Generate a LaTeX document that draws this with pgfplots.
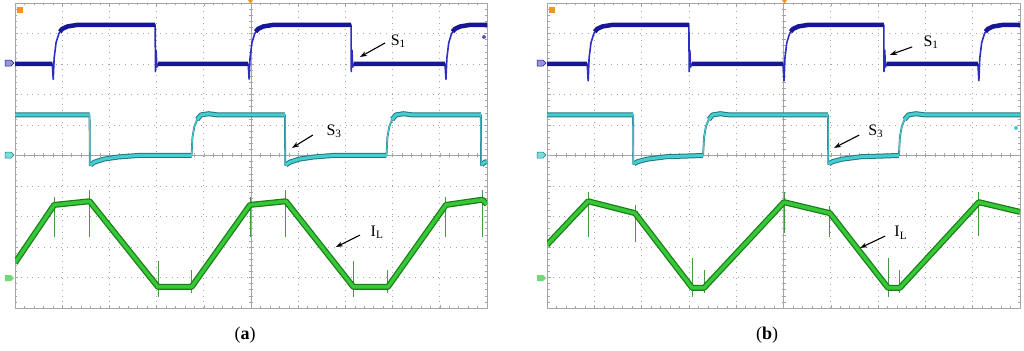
\documentclass[border=0pt]{standalone}
\usepackage{fontspec}
\setmainfont{Liberation Serif}
\usepackage{pgfplots}
\pgfplotsset{compat=1.18}
\usetikzlibrary{arrows.meta}
\definecolor{sone}{RGB}{22,22,150}
\definecolor{sonelight}{RGB}{45,45,195}
\definecolor{sthree}{RGB}{70,205,210}
\definecolor{sthreedark}{RGB}{30,120,125}
\definecolor{il}{RGB}{55,200,55}
\definecolor{ildark}{RGB}{25,125,25}
\definecolor{gridc}{RGB}{165,165,165}
\definecolor{trig}{RGB}{240,150,40}
\pgfplotsset{scopeaxis/.style={
  scale only axis, height=305bp, xmin=0,xmax=10,ymin=0,ymax=10,
  xtick={0,...,10}, ytick={0,...,10}, minor x tick num=4, minor y tick num=4,
  xticklabels={}, yticklabels={}, tick align=inside,
  major tick length=3.5bp, minor tick length=2.5bp,
  axis line style={gridc, line width=0.8bp},
  every tick/.style={gridc, line width=0.5bp},
  grid=major, major grid style={gridc, dash pattern=on 0.8bp off 5bp, line width=0.7bp},
  anchor=south west, unbounded coords=jump, clip=true,
  line join=round,
}}
\newcommand\centerlines{%
  \draw[gridc, line width=0.6bp] (axis cs:5,0)--(axis cs:5,10);
  \draw[gridc, line width=0.6bp] (axis cs:0,5)--(axis cs:10,5);
  \pgfplotsinvokeforeach{1,...,49}{%
    \draw[gridc, line width=0.5bp] (axis cs:5,{##1*0.2}) ++(-2bp,0) -- ++(4bp,0);
    \draw[gridc, line width=0.5bp] (axis cs:{##1*0.2},5) ++(0,-2bp) -- ++(0,4bp);}%
}
\newcommand\lblfont{\fontsize{16bp}{18bp}\selectfont}
\newcommand\capfont{\fontsize{18bp}{20bp}\selectfont}
\begin{document}
\begin{tikzpicture}[x=1bp,y=1bp]
\useasboundingbox (0,0) rectangle (1024,350);
% ---------------- panel (a)
\begin{axis}[scopeaxis, at={(15bp,42bp)}, width=472bp]
\centerlines
% S1
\addplot[sonelight, line width=1.6bp] coordinates {(0,8.0) (0.79,8.0) (0.81,7.5) (0.83,8.2) (0.87,8.7) (0.93,9.0) (1.0,9.15) (1.11,9.23) (1.31,9.28) (2.97,9.28) (2.975,7.75) (2.99,8.45) (3.005,7.9) (3.03,8.0) (4.94,8.0) (4.96,7.5) (4.98,8.2) (5.02,8.7) (5.08,9.0) (5.15,9.15) (5.26,9.23) (5.46,9.28) (7.12,9.28) (7.125,7.75) (7.14,8.45) (7.155,7.9) (7.18,8.0) (9.11,8.0) (9.13,7.5) (9.15,8.2) (9.19,8.7) (9.25,9.0) (9.32,9.15) (9.43,9.23) (9.63,9.28) (10,9.28)};
\addplot[sone, line width=4.5bp] coordinates {(0,8.0)(0.79,8.0)(0.8,nan)(0.95,9.06)(1.0,9.15)(1.11,9.23)(1.31,9.28)(2.97,9.28)(2.98,nan)(3.03,8.0)(4.94,8.0)(4.95,nan)(5.10,9.06)(5.15,9.15)(5.26,9.23)(5.46,9.28)(7.12,9.28)(7.13,nan)(7.18,8.0)(9.11,8.0)(9.12,nan)(9.27,9.06)(9.32,9.15)(9.43,9.23)(9.63,9.28)(10,9.28)};
% S3
\addplot[sthreedark, line width=1.8bp] coordinates {(0,6.33) (1.58,6.33) (1.585,4.68) (1.68,4.78) (1.88,4.88) (2.18,4.95) (2.6,5.0) (3.74,5.0) (3.76,5.6) (3.8,5.95) (3.86,6.18) (3.94,6.33) (4.1,6.37) (4.3,6.33) (5.72,6.33) (5.725,4.68) (5.82,4.78) (6.02,4.88) (6.32,4.95) (6.74,5.0) (7.87,5.0) (7.89,5.6) (7.93,5.95) (7.99,6.18) (8.07,6.33) (8.23,6.37) (8.43,6.33) (9.87,6.33) (9.875,4.68) (9.95,4.78) (10,4.8)};
\addplot[sthreedark, line width=5bp] coordinates {(0,6.33)(1.58,6.33)(1.59,nan)(1.6,4.69)(1.68,4.78)(1.88,4.88)(2.18,4.95)(2.6,5.0)(3.74,5.0)(3.75,nan)(3.86,6.18)(3.94,6.33)(4.1,6.37)(4.3,6.33)(5.72,6.33)(5.73,nan)(5.74,4.69)(5.82,4.78)(6.02,4.88)(6.32,4.95)(6.74,5.0)(7.87,5.0)(7.88,nan)(7.99,6.18)(8.07,6.33)(8.23,6.37)(8.43,6.33)(9.87,6.33)(9.88,nan)(9.89,4.7)(9.95,4.78)(10,4.8)};
\addplot[sthree, line width=1bp] coordinates {(0,6.33) (1.58,6.33) (1.585,4.68) (1.68,4.78) (1.88,4.88) (2.18,4.95) (2.6,5.0) (3.74,5.0) (3.76,5.6) (3.8,5.95) (3.86,6.18) (3.94,6.33) (4.1,6.37) (4.3,6.33) (5.72,6.33) (5.725,4.68) (5.82,4.78) (6.02,4.88) (6.32,4.95) (6.74,5.0) (7.87,5.0) (7.89,5.6) (7.93,5.95) (7.99,6.18) (8.07,6.33) (8.23,6.37) (8.43,6.33) (9.87,6.33) (9.875,4.68) (9.95,4.78) (10,4.8)};
\addplot[sthree, line width=3bp] coordinates {(0,6.33)(1.58,6.33)(1.59,nan)(1.6,4.69)(1.68,4.78)(1.88,4.88)(2.18,4.95)(2.6,5.0)(3.74,5.0)(3.75,nan)(3.86,6.18)(3.94,6.33)(4.1,6.37)(4.3,6.33)(5.72,6.33)(5.73,nan)(5.74,4.69)(5.82,4.78)(6.02,4.88)(6.32,4.95)(6.74,5.0)(7.87,5.0)(7.88,nan)(7.99,6.18)(8.07,6.33)(8.23,6.37)(8.43,6.33)(9.87,6.33)(9.88,nan)(9.89,4.7)(9.95,4.78)(10,4.8)};
% IL
\addplot[ildark!80, line width=0.9bp] coordinates {(0.83,2.33)(0.83,3.65)(0.9,nan)(1.58,2.33)(1.58,3.87)(1.6,nan)(3.03,0.36)(3.03,1.54)(3.1,nan)(3.74,0.5)(3.74,1.25)(3.8,nan)(4.98,2.33)(4.98,3.65)(5.0,nan)(5.74,2.33)(5.74,3.87)(5.8,nan)(7.17,0.36)(7.17,1.54)(7.2,nan)(7.9,0.5)(7.9,1.25)(7.95,nan)(9.13,2.33)(9.13,3.65)(9.2,nan)(9.9,2.33)(9.9,3.87)};
\addplot[ildark, line width=6bp] coordinates {(0,1.48) (0.83,3.38) (1.58,3.5) (3.03,0.69) (3.74,0.69) (4.98,3.38) (5.74,3.5) (7.17,0.69) (7.9,0.69) (9.13,3.38) (9.9,3.55) (10,3.4)};
\addplot[il, line width=3.5bp] coordinates {(0,1.48) (0.83,3.38) (1.58,3.5) (3.03,0.69) (3.74,0.69) (4.98,3.38) (5.74,3.5) (7.17,0.69) (7.9,0.69) (9.13,3.38) (9.9,3.55) (10,3.4)};
% annotations
\draw[-{Stealth[length=7bp,width=5bp]}, line width=1.1bp] (axis cs:7.84,8.69) -- (axis cs:7.31,8.23);
\node[font=\lblfont] at (axis cs:8.12,8.75) {S\textsubscript{1}};
\draw[-{Stealth[length=7bp,width=5bp]}, line width=1.1bp] (axis cs:6.31,5.67) -- (axis cs:5.87,5.25);
\node[font=\lblfont] at (axis cs:6.76,5.8) {S\textsubscript{3}};
\draw[-{Stealth[length=7bp,width=5bp]}, line width=1.1bp] (axis cs:7.31,2.39) -- (axis cs:6.8,2.0);
\node[font=\lblfont] at (axis cs:7.67,2.49) {I\textsubscript{L}};
\end{axis}
% ---------------- panel (b)
\begin{axis}[scopeaxis, at={(547bp,42bp)}, width=473bp]
\centerlines
\addplot[sonelight, line width=1.6bp] coordinates {(0,8.0) (0.85,8.0) (0.87,7.45) (0.89,8.2) (0.93,8.7) (0.99,9.0) (1.06,9.15) (1.17,9.23) (1.37,9.28) (3.0,9.28) (3.005,7.75) (3.02,8.45) (3.035,7.9) (3.06,8.0) (4.99,8.0) (5.01,7.45) (5.03,8.2) (5.07,8.7) (5.13,9.0) (5.2,9.15) (5.31,9.23) (5.51,9.28) (7.12,9.28) (7.125,7.75) (7.14,8.45) (7.155,7.9) (7.18,8.0) (9.11,8.0) (9.13,7.45) (9.15,8.2) (9.19,8.7) (9.25,9.0) (9.32,9.15) (9.43,9.23) (9.63,9.28) (10,9.28)};
\addplot[sone, line width=4.5bp] coordinates {(0,8.0)(0.85,8.0)(0.86,nan)(1.01,9.06)(1.06,9.15)(1.17,9.23)(1.37,9.28)(3.0,9.28)(3.01,nan)(3.06,8.0)(4.99,8.0)(5.0,nan)(5.15,9.06)(5.2,9.15)(5.31,9.23)(5.51,9.28)(7.12,9.28)(7.13,nan)(7.18,8.0)(9.11,8.0)(9.12,nan)(9.27,9.06)(9.32,9.15)(9.43,9.23)(9.63,9.28)(10,9.28)};
\addplot[sthreedark, line width=1.8bp] coordinates {(0,6.33) (1.82,6.33) (1.825,4.72) (1.92,4.8) (2.12,4.88) (2.52,4.96) (3.3,5.0) (3.32,5.6) (3.36,5.95) (3.42,6.18) (3.5,6.33) (3.66,6.37) (3.86,6.33) (5.94,6.33) (5.945,4.72) (6.04,4.8) (6.24,4.88) (6.64,4.96) (7.44,5.0) (7.46,5.6) (7.5,5.95) (7.56,6.18) (7.64,6.33) (7.8,6.37) (8.0,6.33) (10,6.33)};
\addplot[sthreedark, line width=5bp] coordinates {(0,6.33)(1.82,6.33)(1.83,nan)(1.84,4.73)(1.92,4.8)(2.12,4.88)(2.52,4.96)(3.3,5.0)(3.31,nan)(3.42,6.18)(3.5,6.33)(3.66,6.37)(3.86,6.33)(5.94,6.33)(5.95,nan)(5.96,4.73)(6.04,4.8)(6.24,4.88)(6.64,4.96)(7.44,5.0)(7.45,nan)(7.56,6.18)(7.64,6.33)(7.8,6.37)(8.0,6.33)(10,6.33)};
\addplot[sthree, line width=1bp] coordinates {(0,6.33) (1.82,6.33) (1.825,4.72) (1.92,4.8) (2.12,4.88) (2.52,4.96) (3.3,5.0) (3.32,5.6) (3.36,5.95) (3.42,6.18) (3.5,6.33) (3.66,6.37) (3.86,6.33) (5.94,6.33) (5.945,4.72) (6.04,4.8) (6.24,4.88) (6.64,4.96) (7.44,5.0) (7.46,5.6) (7.5,5.95) (7.56,6.18) (7.64,6.33) (7.8,6.37) (8.0,6.33) (10,6.33)};
\addplot[sthree, line width=3bp] coordinates {(0,6.33)(1.82,6.33)(1.83,nan)(1.84,4.73)(1.92,4.8)(2.12,4.88)(2.52,4.96)(3.3,5.0)(3.31,nan)(3.42,6.18)(3.5,6.33)(3.66,6.37)(3.86,6.33)(5.94,6.33)(5.95,nan)(5.96,4.73)(6.04,4.8)(6.24,4.88)(6.64,4.96)(7.44,5.0)(7.45,nan)(7.56,6.18)(7.64,6.33)(7.8,6.37)(8.0,6.33)(10,6.33)};
\addplot[ildark!80, line width=0.9bp] coordinates {(0.87,2.33)(0.87,3.8)(0.9,nan)(1.86,2.16)(1.86,3.38)(1.9,nan)(3.07,0.36)(3.07,1.64)(3.1,nan)(3.32,0.5)(3.32,1.25)(3.4,nan)(5.01,2.45)(5.01,3.8)(5.1,nan)(5.98,2.33)(5.98,3.33)(6.0,nan)(7.21,0.36)(7.21,1.64)(7.3,nan)(7.46,0.5)(7.46,1.25)(7.5,nan)(9.13,2.35)(9.13,3.8)};
\addplot[ildark, line width=6bp] coordinates {(0,2.07) (0.87,3.5) (1.86,3.11) (3.07,0.66) (3.32,0.66) (5.01,3.47) (5.98,3.11) (7.21,0.66) (7.46,0.66) (9.13,3.47) (10,3.15)};
\addplot[il, line width=3.5bp] coordinates {(0,2.07) (0.87,3.5) (1.86,3.11) (3.07,0.66) (3.32,0.66) (5.01,3.47) (5.98,3.11) (7.21,0.66) (7.46,0.66) (9.13,3.47) (10,3.15)};
\draw[-{Stealth[length=7bp,width=5bp]}, line width=1.1bp] (axis cs:7.72,8.56) -- (axis cs:7.25,8.3);
\node[font=\lblfont] at (axis cs:8.12,8.72) {S\textsubscript{1}};
\draw[-{Stealth[length=7bp,width=5bp]}, line width=1.1bp] (axis cs:6.6,5.67) -- (axis cs:6.07,5.25);
\node[font=\lblfont] at (axis cs:6.95,5.8) {S\textsubscript{3}};
\draw[-{Stealth[length=7bp,width=5bp]}, line width=1.1bp] (axis cs:7.15,2.36) -- (axis cs:6.62,1.97);
\node[font=\lblfont] at (axis cs:7.48,2.46) {I\textsubscript{L}};
\end{axis}
% channel / trigger indicators
\foreach \ox in {0,532}{
  \filldraw[fill=sone!45, draw=sone, line width=0.5bp] (\ox+5,284) -- (\ox+11,284) -- (\ox+14,287) -- (\ox+11,290) -- (\ox+5,290) -- cycle;
  \filldraw[fill=sthree!70, draw=sthreedark, line width=0.5bp] (\ox+5,192) -- (\ox+11,192) -- (\ox+14,195) -- (\ox+11,198) -- (\ox+5,198) -- cycle;
  \fill[il!70] (\ox+5,69) -- (\ox+11,69) -- (\ox+14,72) -- (\ox+11,75) -- (\ox+5,75) -- cycle;
  \fill[trig] (\ox+17,337) -- (\ox+23,337) -- (\ox+23,343) -- (\ox+17,343) -- cycle;
}
\fill[trig] (248,350) -- (253,350) -- (250.5,346) -- cycle;
\fill[trig] (782,350) -- (787,350) -- (784.5,346) -- cycle;
\fill[sone!70] (484,313) circle (2bp);
\fill[sthree] (1016,222) circle (2bp);
% captions
\node[font=\capfont] at (245,15) {(\textbf{a})};
\node[font=\capfont] at (767,15) {(\textbf{b})};
\end{tikzpicture}
\end{document}
